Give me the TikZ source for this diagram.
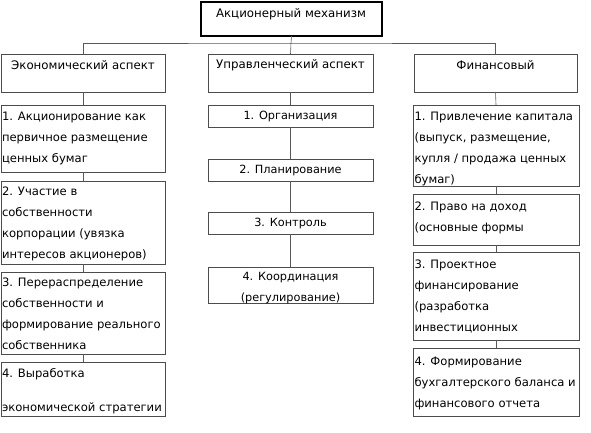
\documentclass[tikz,border=0pt]{standalone}
\usepackage{fontspec}
\setmainfont{DejaVu Sans}
\begin{document}
\begin{tikzpicture}[x=1pt,y=-1pt,
  box/.style={draw=black!70,line width=0.6pt,inner sep=0pt,outer sep=0pt},
  topbox/.style={draw=black,line width=1.4pt,inner sep=0pt,outer sep=0pt},
  txt/.style={inner sep=0pt,outer sep=0pt,align=left,font=\fontsize{11.6}{21}\selectfont,text depth=0pt},
  ctxt/.style={inner sep=0pt,outer sep=0pt,align=center,font=\fontsize{11.8}{21}\selectfont},
  mtxt/.style={inner sep=0pt,outer sep=0pt,align=center,font=\fontsize{11.3}{21}\selectfont},
  conn/.style={draw=black!65,line width=0.6pt}]
\useasboundingbox (0,0) rectangle (591,432);
\newcommand{\bx}[6]{\node[#6,minimum width=#4-#2,minimum height=#5-#3] (#1) at ({(#2+#4)/2},{(#3+#5)/2}) {};}
\bx{top}{201}{2}{382}{36}{topbox}
\bx{E}{1}{54}{165}{92}{box}
\bx{U}{208}{54}{373}{92}{box}
\bx{F}{414}{54}{577}{92}{box}
\bx{E1}{1}{105}{165}{172}{box}
\bx{E2}{1}{181}{165}{264}{box}
\bx{E3}{1}{272}{165}{354}{box}
\bx{E4}{1}{362}{165}{416}{box}
\bx{U1}{208}{105}{373}{127}{box}
\bx{U2}{208}{159}{373}{181}{box}
\bx{U3}{208}{212}{373}{234}{box}
\bx{U4}{208}{267}{373}{303}{box}
\bx{F1}{413}{105}{579}{186}{box}
\bx{F2}{413}{194}{579}{245}{box}
\bx{F3}{413}{252}{579}{340}{box}
\bx{F4}{413}{348}{579}{416}{box}
% texts
\node[ctxt] (tT) at (291,14) {Акционерный механизм};
\node[ctxt] (tE) at (83,65) {Экономический аспект};
\node[ctxt] (tU) at (290.5,65) {Управленческий аспект};
\node[ctxt] (tF) at (495.5,65) {Финансовый};
\node[mtxt] (tU1) at (290.5,116.5) {1. Организация};
\node[mtxt] (tU2) at (290.5,170.5) {2. Планирование};
\node[mtxt] (tU3) at (290.5,223.5) {3. Контроль};
\node[mtxt,anchor=north] (tU4) at (290.5,272) {4. Координация\\(регулирование)};
\node[txt,anchor=north west] (tE1) at (2,112) {1. Акционирование как\\первичное размещение\\ценных бумаг};
\node[txt,anchor=north west] (tE2) at (2,187) {2. Участие в\\собственности\\корпорации (увязка\\интересов акционеров)};
\node[txt,anchor=north west] (tE3) at (2,278) {3. Перераспределение\\собственности и\\формирование реального\\собственника};
\node[txt,anchor=north west] (tE4) at (2,368) {4. Выработка\\[13pt]экономической стратегии};
\node[txt,anchor=north west] (tF1) at (414.5,112) {1. Привлечение капитала\\(выпуск, размещение,\\купля / продажа ценных\\бумаг)};
\node[txt,anchor=north west] (tF2) at (414.5,202) {2. Право на доход\\(основные формы};
\node[txt,anchor=north west] (tF3) at (414.5,260) {3. Проектное\\финансирование\\(разработка\\инвестиционных};
\node[txt,anchor=north west] (tF4) at (414.5,357) {4. Формирование\\бухгалтерского баланса и\\финансового отчета};
% connectors
\coordinate (h) at (291,43);
\draw[conn] (top.south) -- (h);
\draw[conn] (E.north) |- (h) -| (F.north);
\draw[conn] (h) -- (U.north);
\draw[conn] (E.south) -- (E1.north);
\draw[conn] (E1.south) -- (E2.north);
\draw[conn] (E2.south) -- (E3.north);
\draw[conn] (E3.south) -- (E4.north);
\draw[conn] (U.south) -- (U1.north);
\draw[conn] (U1.south) -- (U2.north);
\draw[conn] (U2.south) -- (U3.north);
\draw[conn] (U3.south) -- (U4.north);
\draw[conn] (F.south) -- (F1.north);
\draw[conn] (F1.south) -- (F2.north);
\draw[conn] (F2.south) -- (F3.north);
\draw[conn] (F3.south) -- (F4.north);
\end{tikzpicture}
\end{document}
